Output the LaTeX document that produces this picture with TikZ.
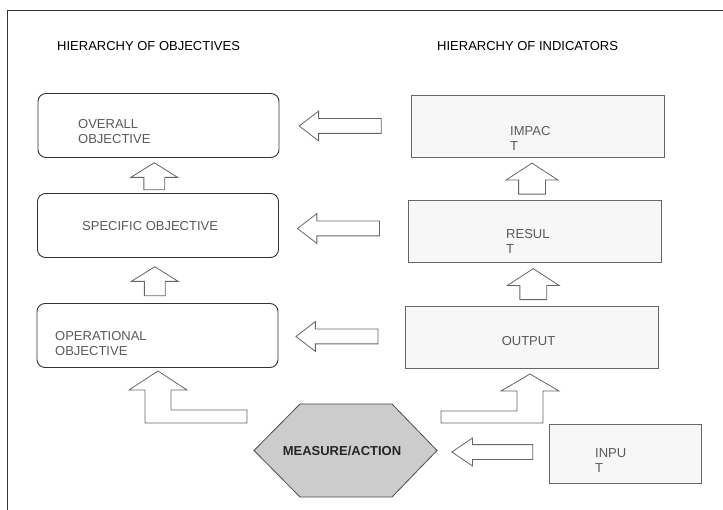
\documentclass[tikz,border=0pt]{standalone}
\usepackage{fontspec}
\setmainfont{Liberation Sans}
\usetikzlibrary{shapes.arrows,calc}
\tikzset{
  objbox/.style={draw=black!80, line width=0.9pt, rounded corners=8pt, minimum width=241pt, minimum height=64pt, inner sep=0pt},
  indbox/.style={draw=black!60, line width=0.8pt, fill=black!3, minimum width=253pt, minimum height=62pt, inner sep=0pt},
  boxtext/.style={anchor=west, align=left, text=black!65, font=\fontsize{13}{15}\selectfont, inner sep=0pt},
  title/.style={anchor=west, font=\fontsize{13}{15}\selectfont, inner sep=0pt},
  blockarrow/.style={draw=black!60, fill=white, line width=0.8pt},
  sidearrow/.style={blockarrow, single arrow, rotate=180, inner xsep=0pt, inner ysep=7pt, minimum height=82pt, single arrow head extend=7.5pt, single arrow tip angle=75},
  uparrow/.style={blockarrow, single arrow, rotate=90, inner xsep=0pt, inner ysep=10pt, minimum height=27pt, single arrow head extend=13pt, single arrow tip angle=116},
  wideuparrow/.style={uparrow, inner ysep=13pt, minimum height=31pt, single arrow head extend=12.5pt, single arrow tip angle=114},
}
\begin{document}
\begin{tikzpicture}[x=1pt, y=-1pt]
\useasboundingbox (0,0) rectangle (723,510);
% frame
\draw [line width=1pt, black!80] (7,512) -- (7,11) -- (725,11);
% titles
\node [title] (objtitle) at (57,46) {HIERARCHY OF OBJECTIVES};
\node [title] (indtitle) at (437,46) {HIERARCHY OF INDICATORS};
% objectives
\node [objbox] (overall) at (158.5,125.5) {};
\node [objbox] (specific) at (158,225.5) {};
\node [objbox] (operational) at (157.5,335.5) {};
\node [boxtext] (overalltext) at (78,132) {OVERALL\\OBJECTIVE};
\node [boxtext] (specifictext) at (82,226) {SPECIFIC OBJECTIVE};
\node [boxtext] (operationaltext) at (55,343.5) {OPERATIONAL\\OBJECTIVE};
% indicators
\node [indbox] (impact) at (537.5,126.5) {};
\node [indbox] (result) at (534.5,231.5) {};
\node [indbox] (output) at (532,337.5) {};
\node [indbox, minimum width=152pt, minimum height=59pt] (input) at (625,453.5) {};
\node [boxtext] (impacttext) at (510,138) {IMPAC\\T};
\node [boxtext] (resulttext) at (506,241) {RESUL\\T};
\node [boxtext, anchor=center] (outputtext) at (528.5,341) {OUTPUT};
\node [boxtext] (inputtext) at (595,460.5) {INPU\\T};
% measure (hexagon)
\draw [draw=black!70, fill=black!20, line width=0.8pt] (254,450.5) -- (300,404) -- (392,404) -- (437,450.5) -- (392,497) -- (300,497) -- cycle;
\coordinate (measuretip) at (437,450.5);
\node [font=\fontsize{13}{15}\selectfont\bfseries, text=black!85, inner sep=0pt] (measure) at (342,451) {MEASURE/ACTION};
% arrows between the columns
\node [sidearrow] (arrowone) at ($(overall.east)!0.5!(impact.west)$) {};
\node [sidearrow] (arrowtwo) at ($(specific.east)!0.5!(result.west)$) {};
\node [sidearrow] (arrowthree) at ($(operational.east)!0.5!(output.west)$) {};
\node [sidearrow, minimum height=81pt, single arrow head extend=6.5pt, single arrow tip angle=68] (arrowfour) at ($(measuretip)!0.5!(input.west)+(5,0)$) {};
% arrows up
\node [uparrow] (upone) at ($(overall.south)!0.5!(specific.north)+(-4,4)$) {};
\node [uparrow, minimum height=29pt] (uptwo) at ($(specific.south)!0.5!(operational.north)+(-3,4)$) {};
\node [wideuparrow] (upthree) at ($(impact.south)!0.5!(result.north)+(-4,4)$) {};
\node [wideuparrow] (upfour) at ($(result.south)!0.5!(output.north)+(0,4)$) {};
% bent arrows from the measure
\draw [blockarrow] (158,371) -- (187,390) -- (171,390) -- (171,410) -- (247,410) -- (247,423) -- (145,423) -- (145,390) -- (129,390) -- cycle;
\draw [blockarrow] (530,374) -- (559,391) -- (543,391) -- (543,423) -- (441,423) -- (441,411) -- (517,411) -- (517,391) -- (501,391) -- cycle;
\end{tikzpicture}
\end{document}
